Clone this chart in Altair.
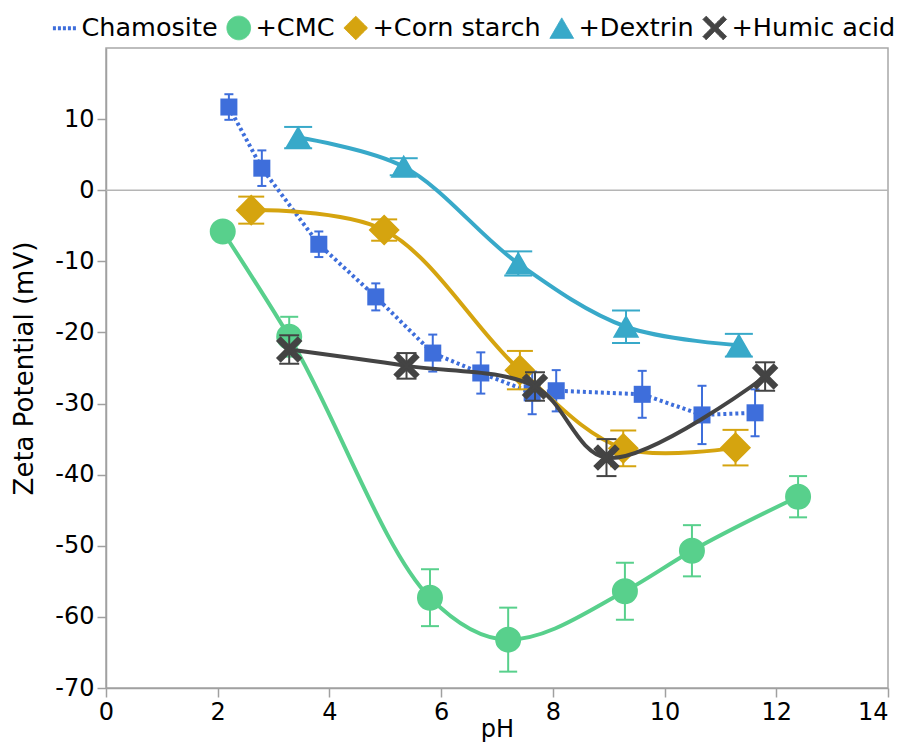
import altair as alt
import pandas as pd

# ---- data ----
series_names = ["Chamosite", "+CMC", "+Corn starch", "+Dextrin", "+Humic acid"]

cham_ph = [2.20, 2.79, 3.81, 4.83, 5.85, 6.71, 7.63, 8.06, 9.60, 10.67, 11.62]
cham_zeta = [11.7, 3.1, -7.6, -15.0, -22.9, -25.7, -28.5, -28.2, -28.7, -31.6, -31.3]
cham_err = [1.8, 2.5, 1.8, 1.9, 2.6, 2.9, 3.0, 2.9, 3.3, 4.1, 3.3]

cmc_ph = [2.09, 3.28, 5.80, 7.20, 9.29, 10.49, 12.39]
cmc_zeta = [-5.8, -20.6, -57.3, -63.2, -56.4, -50.7, -43.1]
cmc_err = [0.8, 2.8, 4.0, 4.5, 4.0, 3.6, 2.9]

corn_ph = [2.60, 4.98, 7.41, 9.26, 11.27]
corn_zeta = [-2.8, -5.6, -25.3, -36.3, -36.2]
corn_err = [1.9, 1.5, 2.7, 2.5, 2.5]

dex_ph = [3.44, 5.33, 7.38, 9.31, 11.33]
dex_zeta = [7.4, 3.3, -10.3, -19.2, -21.8]
dex_err = [1.5, 1.2, 1.7, 2.3, 1.6]

humic_ph = [3.28, 5.38, 7.68, 8.96, 11.80]
humic_zeta = [-22.4, -24.7, -27.6, -37.6, -26.2]
humic_err = [2.0, 1.8, 2.0, 2.6, 2.0]

x_ticks = [0, 2, 4, 6, 8, 10, 12, 14]
y_ticks = [-70, -60, -50, -40, -30, -20, -10, 0, 10]

# ---- styles ----
colors = ["#3e6edb", "#58d08c", "#d5a40f", "#38a9c9", "#444444"]
x_path = ("M-1,-0.72L-0.72,-1L0,-0.28L0.72,-1L1,-0.72L0.28,0L1,0.72L0.72,1"
          "L0,0.28L-0.72,1L-1,0.72L-0.28,0Z")
shapes = ["stroke", "circle", "diamond", "triangle-up", x_path]
styles = {
    "Chamosite": dict(shape="square", size=290, cap=9, interp="linear", dash=[3, 3]),
    "+CMC": dict(shape="circle", size=576, cap=18, interp="monotone", dash=None),
    "+Corn starch": dict(shape="diamond", size=800, cap=26, interp="catmull-rom", dash=None),
    "+Dextrin": dict(shape="triangle-up", size=530, cap=28, interp="catmull-rom", dash=None),
    "+Humic acid": dict(shape=x_path, size=560, cap=20, interp="catmull-rom", dash=None),
}

frames = []
for name, ph, z, e in [
    ("Chamosite", cham_ph, cham_zeta, cham_err),
    ("+CMC", cmc_ph, cmc_zeta, cmc_err),
    ("+Corn starch", corn_ph, corn_zeta, corn_err),
    ("+Dextrin", dex_ph, dex_zeta, dex_err),
    ("+Humic acid", humic_ph, humic_zeta, humic_err),
]:
    frames.append(pd.DataFrame({"series": name, "pH": ph, "zeta": z, "err": e}))
df = pd.concat(frames, ignore_index=True)
df["lo"] = df["zeta"] - df["err"]
df["hi"] = df["zeta"] + df["err"]

FONT = "DejaVu Sans"
xscale = alt.Scale(domain=[0, 14], nice=False, zero=False)
yscale = alt.Scale(domain=[-70, 20], nice=False, zero=False)
xaxis = alt.Axis(
    values=x_ticks, title="pH", tickSize=9, labelPadding=3, titlePadding=-7,
    labelExpr="datum.value + ''",
    labelAlign=alt.ExprRef(expr="datum.value == 14 ? 'right' : 'center'"),
)
yaxis = alt.Axis(values=y_ticks, title="Zeta Potential (mV)", tickSize=9, labelPadding=3,
                 titlePadding=17, titleFontSize=26, labelExpr="datum.value + ''")


def X(f):
    return alt.X(f, type="quantitative", scale=xscale, axis=xaxis, title="pH")


def Y(f):
    return alt.Y(f, type="quantitative", scale=yscale, axis=yaxis, title="Zeta Potential (mV)")


legend = alt.Legend(
    title=None, orient="none", legendX=-54, legendY=-33, direction="horizontal",
    columns=5, symbolSize=560, labelFontSize=25.5, labelFont=FONT, labelColor="black",
    labelOffset=4, columnPadding=6, padding=0, labelLimit=0,
    symbolStrokeWidth=alt.ExprRef(expr="datum.value == 'Chamosite' ? 4 : 1"),
    symbolDash=alt.ExprRef(expr="datum.value == 'Chamosite' ? [3, 2] : [1, 0]"),
)
cscale = alt.Scale(domain=series_names, range=colors)
sscale = alt.Scale(domain=series_names, range=shapes)

zero = alt.Chart(pd.DataFrame({"a": [0]})).mark_rule(color="#b5b5b5", strokeWidth=1.5).encode(
    y=alt.datum(0, scale=yscale)
)

layers = [zero]
for i, name in enumerate(series_names):
    st = styles[name]
    c = colors[i]
    base = alt.Chart(df[df["series"] == name])
    bars = base.mark_rule(color=c, strokeWidth=2).encode(x=X("pH"), y=Y("lo"), y2="hi")
    cap_lo = base.mark_tick(orient="horizontal", size=st["cap"], thickness=2, color=c,
                            opacity=1).encode(x=X("pH"), y=Y("lo"))
    cap_hi = base.mark_tick(orient="horizontal", size=st["cap"], thickness=2, color=c,
                            opacity=1).encode(x=X("pH"), y=Y("hi"))
    line_kw = dict(color=c, strokeWidth=4, interpolate=st["interp"])
    if st["dash"]:
        line_kw["strokeDash"] = st["dash"]
    line = base.mark_line(**line_kw).encode(x=X("pH"), y=Y("zeta"))
    if name == "Chamosite":
        pts = base.mark_point(filled=True, opacity=1, size=st["size"], shape=st["shape"],
                              color=c).encode(x=X("pH"), y=Y("zeta"))
    else:
        pts = base.mark_point(filled=True, opacity=1, size=st["size"]).encode(
            x=X("pH"), y=Y("zeta"),
            fill=alt.Fill("series:N", scale=cscale, legend=legend),
            stroke=alt.Stroke("series:N", scale=cscale, legend=legend),
            shape=alt.Shape("series:N", scale=sscale, legend=legend),
        )
    layers += [bars, cap_lo, cap_hi, line, pts]

chart = alt.layer(*layers).properties(
    width=782, height=640,
    autosize=alt.AutoSizeParams(type="none"),
    padding={"left": 98, "top": 40, "right": 7, "bottom": 55},
).configure_view(
    stroke="#a8a8a8", strokeWidth=1.5
).configure_axis(
    grid=False, domainColor="#a0a0a0", domainWidth=1.5, tickColor="#a0a0a0", tickWidth=1.5,
    labelFont=FONT, labelFontSize=24, labelColor="black",
    titleFont=FONT, titleFontSize=24, titleFontWeight="normal", titleColor="black",
)

chart.save("out.html", embed_options={"renderer": "svg", "actions": False})
